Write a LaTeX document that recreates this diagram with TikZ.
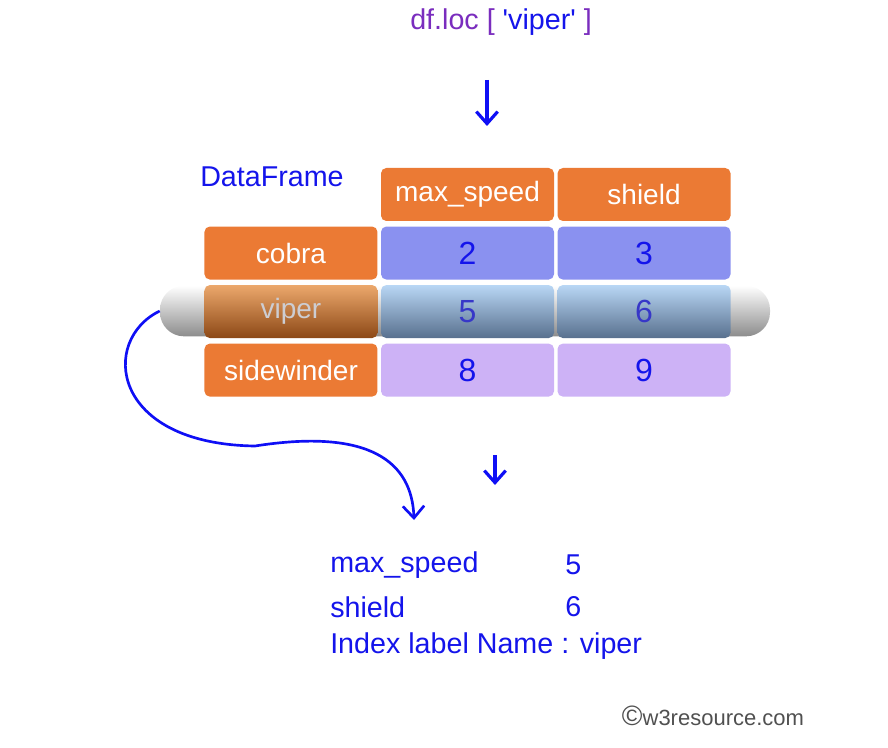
\documentclass[tikz,border=0pt]{standalone}
\usepackage{fontspec}
\setmainfont{Liberation Sans}
\usepackage{xcolor}
\usepackage{tikz}
\usetikzlibrary{positioning, arrows.meta}

\definecolor{cellorange}{RGB}{235,122,52}
\definecolor{cobraval}{RGB}{138,145,240}
\definecolor{sideval}{RGB}{205,178,246}
\definecolor{textblue}{RGB}{20,20,235}
\definecolor{arrowblue}{RGB}{15,15,245}
\definecolor{titlepurple}{RGB}{122,45,190}
\definecolor{vipertext}{RGB}{205,205,210}
\definecolor{vipernum}{RGB}{55,55,200}
\definecolor{vipertop}{RGB}{185,215,245}
\definecolor{viperbot}{RGB}{88,112,142}
\definecolor{idxtop}{RGB}{236,168,108}
\definecolor{idxbot}{RGB}{140,72,22}
\definecolor{markgray}{RGB}{80,80,80}

\tikzset{
  cell/.style={rounded corners=4pt, minimum width=129.75pt, minimum height=39.75pt, inner sep=0pt, font=\fontsize{21}{24}\selectfont},
  numcell/.style={cell, font=\fontsize{24}{26}\selectfont},
  hdr/.style={cell, fill=cellorange, text=white},
  idx/.style={cell, fill=cellorange, text=white},
  cobracell/.style={numcell, fill=cobraval, text=textblue},
  sidecell/.style={numcell, fill=sideval, text=textblue},
  vipercell/.style={numcell, top color=vipertop, bottom color=viperbot, text=vipernum},
  restext/.style={anchor=west, inner sep=0pt, text=textblue, font=\fontsize{21.5}{24}\selectfont},
  arr/.style={-{Straight Barb[length=9pt, width=16pt]}, line width=2.4pt, draw=arrowblue}
}

\begin{document}
\begin{tikzpicture}[x=0.75pt, y=-0.75pt]
\useasboundingbox (0,0) rectangle (888,748);

% nodes %
\node[font=\fontsize{21.5}{24}\selectfont] (title) at (501,22) {\textcolor{titlepurple}{df.loc [}\ \textcolor{textblue}{\textquotesingle viper\textquotesingle}\ \textcolor{titlepurple}{]}};
\node[anchor=west, inner sep=0pt, text=textblue, font=\fontsize{21.5}{24}\selectfont] (df) at (200,177) {DataFrame};

\node[rounded corners=18pt, minimum width=457.5pt, minimum height=38pt, inner sep=0pt, top color=white, bottom color=black!45] (pill) at (465,311) {};

\node[hdr] (speed) at (467.5,194.5) {max\_speed};
\node[hdr, right=2.25pt of speed] (shield) {shield};

\node[cobracell, below=3.75pt of speed] (c2) {2};
\node[cobracell, right=2.25pt of c2] (c3) {3};
\node[idx, left=2.25pt of c2] (cobra) {cobra};

\node[vipercell, below=3.75pt of c2] (v5) {5};
\node[vipercell, right=2.25pt of v5] (v6) {6};
\node[cell, left=2.25pt of v5, top color=idxtop, bottom color=idxbot, text=vipertext] (viper) {viper};

\node[sidecell, below=3.75pt of v5] (s8) {8};
\node[sidecell, right=2.25pt of s8] (s9) {9};
\node[idx, left=2.25pt of s8] (side) {sidewinder};

\node[restext] (rspeed) at (330,565) {max\_speed};
\node[restext] (rfive) at (565,565) {5};
\node[restext] (rshield) at (330,607) {shield};
\node[restext] (rsix) at (565,607) {6};
\node[restext] (rname) at (330,646) {Index label Name : viper};

\node[text=markgray, font=\fontsize{16.5}{18}\selectfont] (mark) at (713,716) {{\fontsize{21}{21}\selectfont\textcopyright}w3resource.com};

\coordinate (t1) at (487,80);
\coordinate (t2) at (487,126);
\coordinate (m1) at (495,455);
\coordinate (m2) at (495,485);
\coordinate (bend) at (255,446);
\coordinate (cend) at (414,520);

% edges %
\draw[arr] (t1) -- (t2);
\draw[arr] (m1) -- (m2);
\draw[arr, line width=2pt] (pill.west) .. controls (100,340) and (110,444) .. (bend) .. controls (370,428) and (412,462) .. (cend);

\end{tikzpicture}
\end{document}
